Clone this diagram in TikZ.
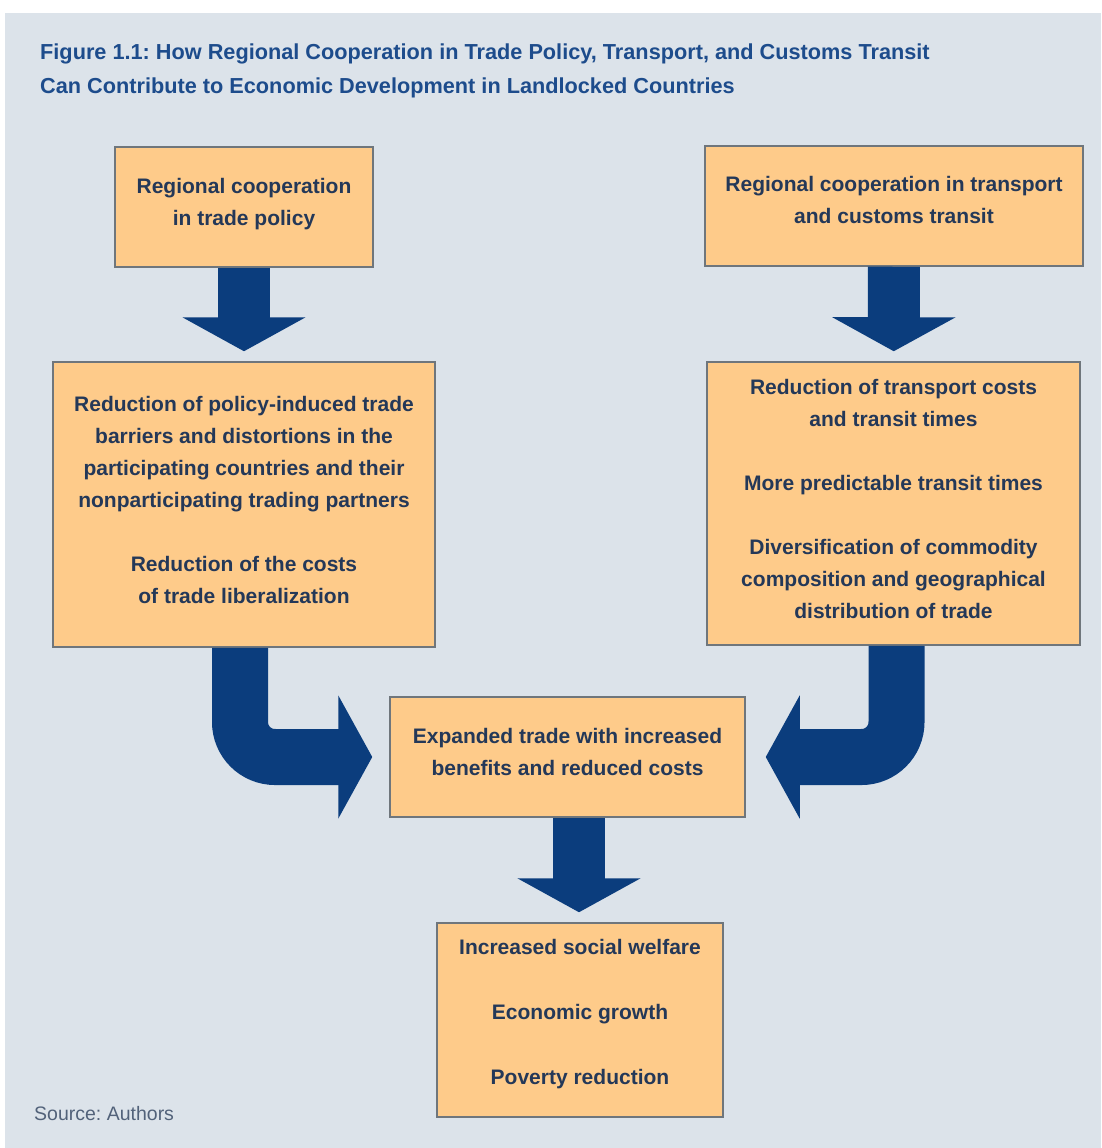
\documentclass[tikz,border=0pt]{standalone}
\usepackage{fontspec}
\setmainfont{Liberation Sans}
\usetikzlibrary{arrows.meta}
\definecolor{bgpanel}{HTML}{DCE3EA}
\definecolor{boxfill}{HTML}{FECB8A}
\definecolor{boxline}{HTML}{6F767C}
\definecolor{boxtext}{HTML}{243858}
\definecolor{arrowblue}{HTML}{0B3D7D}
\definecolor{titleblue}{HTML}{1D4C8C}
\definecolor{sourcegray}{HTML}{52627A}
\frenchspacing

\begin{document}
\begin{tikzpicture}[x=1pt, y=-1pt,
  box/.style={draw=boxline, fill=boxfill, line width=1.5pt, inner sep=0pt, text=boxtext, text depth=10pt, font=\fontsize{21}{32}\selectfont\bfseries, align=center},
  fat/.style={draw=arrowblue, line width=52pt, -{Triangle[width=122pt,length=34pt,fill=arrowblue]}}
]
  \useasboundingbox (0,0) rectangle (1101,1148);
  \fill[white] (0,0) rectangle (1101,1148);
  \fill[bgpanel] (5,13) rectangle (1101,1148);

  % title and source
  \node[anchor=north west, inner sep=0pt, align=left, text=titleblue, font=\fontsize{21.7}{34}\selectfont\bfseries] (title) at (40,44)
    {Figure 1.1: How Regional Cooperation in Trade Policy, Transport, and Customs Transit\\
     Can Contribute to Economic Development in Landlocked Countries};
  \node[anchor=base west, inner sep=0pt, text=sourcegray, font=\fontsize{19.5}{24}\selectfont] (source) at (34,1120) {Source: Authors};

  % boxes
  \node[box, minimum width=258pt, minimum height=120pt] (trade) at (244,207)
    {Regional cooperation\\ in trade policy};
  \node[box, text depth=13pt, minimum width=378pt, minimum height=120pt] (transport) at (894,206)
    {Regional cooperation in transport\\ and customs transit};
  \node[box, minimum width=382pt, minimum height=285pt] (tradeeff) at (244,504.5)
    {Reduction of policy-induced trade\\ barriers and distortions in the\\ participating countries and their\\ nonparticipating trading partners\\[32pt]
     Reduction of the costs\\ of trade liberalization};
  \node[box, minimum width=373pt, minimum height=283pt] (transeff) at (893.5,503.5)
    {Reduction of transport costs\\ and transit times\\[32pt]
     More predictable transit times\\[32pt]
     Diversification of commodity\\ composition and geographical\\ distribution of trade};
  \node[box, minimum width=355pt, minimum height=120pt] (expand) at (567.5,757)
    {Expanded trade with increased\\ benefits and reduced costs};
  \node[box, text depth=16pt, minimum width=286pt, minimum height=194pt] (welfare) at (580,1020)
    {Increased social welfare\\[33pt] Economic growth\\[33pt] Poverty reduction};

  % block arrows
  \draw[fat, shorten >=10pt] (trade) -- (tradeeff);
  \draw[fat, shorten >=10pt] (transport) -- (transeff);
  \draw[fat, shorten >=10pt] (expand.south -| 579,0) -- (welfare.north -| 579,0);
  \draw[fat, line width=56pt, rounded corners=35pt, shorten >=17pt] ([xshift=-4pt]tradeeff.south) |- (expand.west);
  \draw[fat, line width=56pt, rounded corners=35pt, shorten >=20pt] ([xshift=3pt]transeff.south) |- (expand.east);
\end{tikzpicture}
\end{document}
